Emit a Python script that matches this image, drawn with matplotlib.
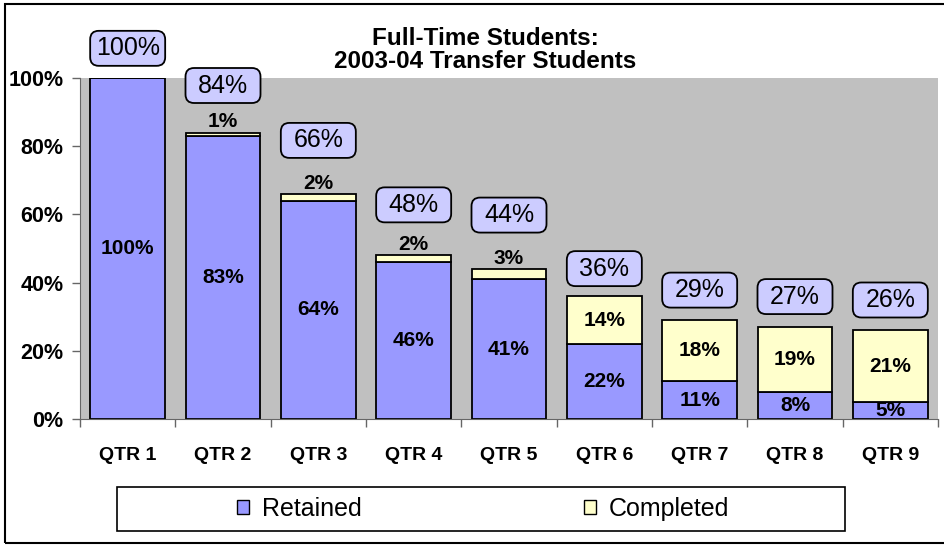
import numpy as np
import matplotlib
matplotlib.use("Agg")
import matplotlib.pyplot as plt
from matplotlib.patches import Rectangle, FancyBboxPatch, Patch

plt.rcParams['font.family'] = ['Liberation Sans', 'DejaVu Sans']

# -- data
quarters = ["QTR 1", "QTR 2", "QTR 3", "QTR 4", "QTR 5", "QTR 6", "QTR 7", "QTR 8", "QTR 9"]
retained = [100, 83, 64, 46, 41, 22, 11, 8, 5]
completed = [0, 1, 2, 2, 3, 14, 18, 19, 21]
totals = [100, 84, 66, 48, 44, 36, 29, 27, 26]

# how far (in % units) each total box sits above its bar
box_lift = [8.7, 13.8, 15.7, 14.8, 15.8, 8.1, 8.8, 8.9, 8.9]

GRAY = "#C0C0C0"
RET = "#9999FF"
COMP = "#FFFFCC"
BOXC = "#CCCCFF"

fig = plt.figure(figsize=(9.45, 5.46), dpi=100)
ax = fig.add_axes([80/945, 1 - 419/546, (938 - 80)/945, (419 - 78)/546])
ax.set_facecolor(GRAY)

x = np.arange(len(quarters))
w = 0.78
ax.bar(x, retained, w, color=RET, edgecolor="black", linewidth=1.3, zorder=2)
ax.bar(x, completed, w, bottom=retained, color=COMP, edgecolor="black", linewidth=1.3, zorder=2)

ax.set_xlim(-0.5, len(quarters) - 0.5)
ax.set_ylim(0, 100)

# labels inside / above the bars
for i in range(len(quarters)):
    ax.text(x[i], retained[i] / 2, f"{retained[i]}%", ha="center", va="center",
            fontsize=15, fontweight="bold", zorder=4)
    if completed[i] == 0:
        continue
    if completed[i] < 5:
        ax.annotate(f"{completed[i]}%", (x[i], totals[i]), xytext=(0, 1),
                    textcoords="offset points", ha="center", va="bottom",
                    fontsize=15, fontweight="bold", zorder=4)
    else:
        ax.text(x[i], retained[i] + completed[i] / 2, f"{completed[i]}%", ha="center",
                va="center", fontsize=15, fontweight="bold", zorder=4)

# rounded total boxes
fig.canvas.draw()
px_x = ax.bbox.width / len(quarters)
px_y = ax.bbox.height / 100
bw = 75 / px_x
bh = 35 / px_y
for i in range(len(quarters)):
    cy = totals[i] + box_lift[i]
    box = FancyBboxPatch((x[i] - bw/2, cy - bh/2), bw, bh,
                         boxstyle="round,pad=0,rounding_size=0.09",
                         mutation_aspect=px_x/px_y, fc=BOXC, ec="black",
                         lw=1.3, clip_on=False, zorder=5)
    ax.add_patch(box)
    ax.text(x[i], cy, f"{totals[i]}%", ha="center", va="center", fontsize=18,
            clip_on=False, zorder=6)

# axes styling
for s in ["top", "right"]:
    ax.spines[s].set_visible(False)
ax.spines["left"].set_color("#666666")
ax.spines["bottom"].set_color("#666666")
ax.set_yticks(np.arange(0, 101, 20))
ax.set_yticklabels([f"{v}%" for v in range(0, 101, 20)], fontsize=15.5, fontweight="bold")
ax.tick_params(axis="y", length=6, width=1, color="#666666", pad=6)
ax.set_xticks(x)
ax.set_xticklabels(quarters, fontsize=14, fontweight="bold")
ax.tick_params(axis="x", which="major", length=0, pad=20)
ax.set_xticks(np.arange(-0.5, len(quarters), 1), minor=True)
ax.tick_params(axis="x", which="minor", length=6, width=1, color="#666666")

# title
fig.text(485/945, 1 - 50/546, "Full-Time Students:\n2003-04 Transfer Students",
         ha="center", va="center", fontsize=17.5, fontweight="bold", linespacing=1.05)

# legend with a wide frame of its own
fig.patches.append(Rectangle((117/945, 1 - 531/546), (845 - 117)/945, 44/546,
                             transform=fig.transFigure, fc="white", ec="black", lw=1.2))
handles = [Patch(fc=RET, ec="black", lw=1), Patch(fc=COMP, ec="black", lw=1)]
fig.legend(handles, ["Retained", "Completed"], loc="center",
           bbox_to_anchor=(483/945, 1 - 509/546), ncol=2, frameon=False,
           fontsize=18, handlelength=0.5, handleheight=0.5, handletextpad=0.5,
           columnspacing=8.9)

# outer chart border, right edge runs off the picture
fig.patches.append(Rectangle((5/945, 3/546), 1.1, 1 - 7/546, transform=fig.transFigure,
                             fill=False, ec="black", lw=1.5))

fig.savefig("out.png", dpi=100)
